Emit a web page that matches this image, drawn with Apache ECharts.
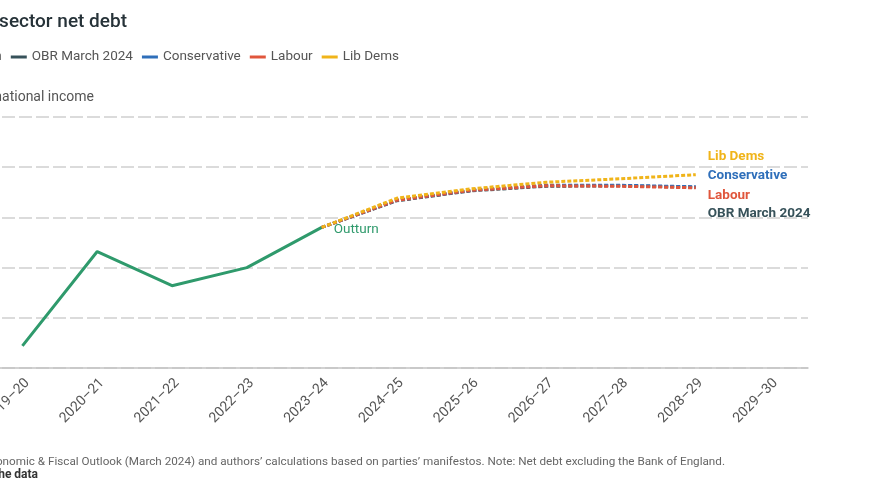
<!DOCTYPE html>
<html>
<head>
<meta charset="utf-8">
<script src="https://cdn.jsdelivr.net/npm/echarts@6/dist/echarts.min.js"></script>
<style>
  html, body { margin: 0; padding: 0; background: #fff; }
  #chart { width: 869px; height: 504px; }
</style>
</head>
<body>
<div id="chart"></div>
<script>
  // years on the x axis
  const years = ['2019–20', '2020–21', '2021–22', '2022–23', '2023–24', '2024–25',
    '2025–26', '2026–27', '2027–28', '2028–29', '2029–30']

  // per cent of national income
  const outturn = [72.2, 81.6, 78.2, 80.0, 84.0]
  const obr = [null, null, null, null, 84.0, 86.65, 87.65, 88.1, 88.15, 88.0]
  const conservative = [null, null, null, null, 84.0, 86.7, 87.7, 88.2, 88.2, 88.05]
  const labour = [null, null, null, null, 84.0, 86.7, 87.7, 88.15, 88.1, 87.95]
  const libDems = [null, null, null, null, 84.0, 86.9, 87.85, 88.5, 88.85, 89.25]

  const yTicks = { min: 70, max: 95, step: 5 }

  const colors = {
    outturn: '#2f9a6c',
    obr: '#37525a',
    con: '#2f6fba',
    lab: '#e0563c',
    lib: '#f0b419'
  }

  const chart = echarts.init(document.getElementById('chart'))

  function projection(name, data, color, dy) {
    return {
      name: name,
      type: 'line',
      data: data,
      showSymbol: false,
      color: color,
      lineStyle: { color: color, width: 3, type: [4, 2] },
      endLabel: {
        show: true,
        formatter: name,
        color: color,
        fontSize: 13.5,
        fontWeight: 'bold',
        distance: 12,
        offset: [0, dy]
      }
    }
  }

  chart.setOption({
    animation: false,
    textStyle: { fontFamily: 'Roboto, sans-serif' },
    title: [
      {
        text: 'Public sector net debt',
        right: 742,
        top: 13,
        padding: 0,
        textStyle: { fontSize: 19, fontWeight: 500, color: '#263238' }
      },
      {
        text: 'Per cent of national income',
        right: 775,
        top: 90,
        padding: 0,
        textStyle: { fontSize: 14, fontWeight: 'normal', color: '#555' }
      },
      {
        text: 'Source: Office for Budget Responsibility, Economic & Fiscal Outlook (March 2024) and authors’ calculations based on parties’ manifestos. Note: Net debt excluding the Bank of England.',
        right: 144,
        top: 456,
        padding: 0,
        textStyle: { fontSize: 11.7, fontWeight: 'normal', color: '#666' }
      },
      {
        text: 'Get the data',
        right: 831,
        top: 469,
        padding: 0,
        textStyle: { fontSize: 12, fontWeight: 'bold', color: '#333' }
      }
    ],
    legend: {
      right: 470,
      top: 50,
      width: 1200,
      padding: 0,
      icon: 'rect',
      itemWidth: 16,
      itemHeight: 3,
      itemGap: 9,
      textStyle: { fontSize: 13.5, color: '#555' },
      data: ['Outturn', 'OBR March 2024', 'Conservative', 'Labour', 'Lib Dems']
    },
    grid: {
      left: -15,
      right: 61,
      top: 117,
      bottom: 136,
      outerBoundsMode: 'none'
    },
    xAxis: {
      type: 'category',
      data: years,
      boundaryGap: true,
      axisLine: { lineStyle: { color: '#c4c4c4', width: 1.5 } },
      axisTick: { alignWithLabel: true, length: 5, lineStyle: { color: '#c4c4c4' } },
      axisLabel: {
        rotate: 45,
        fontSize: 14,
        color: '#555',
        margin: 8,
        interval: 0,
        verticalAlign: 'top'
      }
    },
    yAxis: {
      type: 'value',
      min: yTicks.min,
      max: yTicks.max,
      interval: yTicks.step,
      axisLabel: { show: false },
      axisLine: { show: false },
      axisTick: { show: false },
      splitLine: { lineStyle: { color: '#cfcfcf', width: 1.5, type: [13, 4] } }
    },
    series: [
      {
        name: 'Outturn',
        type: 'line',
        data: outturn,
        showSymbol: false,
        color: colors.outturn,
        lineStyle: { color: colors.outturn, width: 3 },
        endLabel: {
          show: true,
          formatter: 'Outturn',
          color: colors.outturn,
          fontSize: 13.5,
          distance: 12,
          offset: [0, 2]
        }
      },
      projection('OBR March 2024', obr, colors.obr, 26),
      projection('Conservative', conservative, colors.con, -11),
      projection('Labour', labour, colors.lab, 8),
      projection('Lib Dems', libDems, colors.lib, -18)
    ]
  })
</script>
</body>
</html>
